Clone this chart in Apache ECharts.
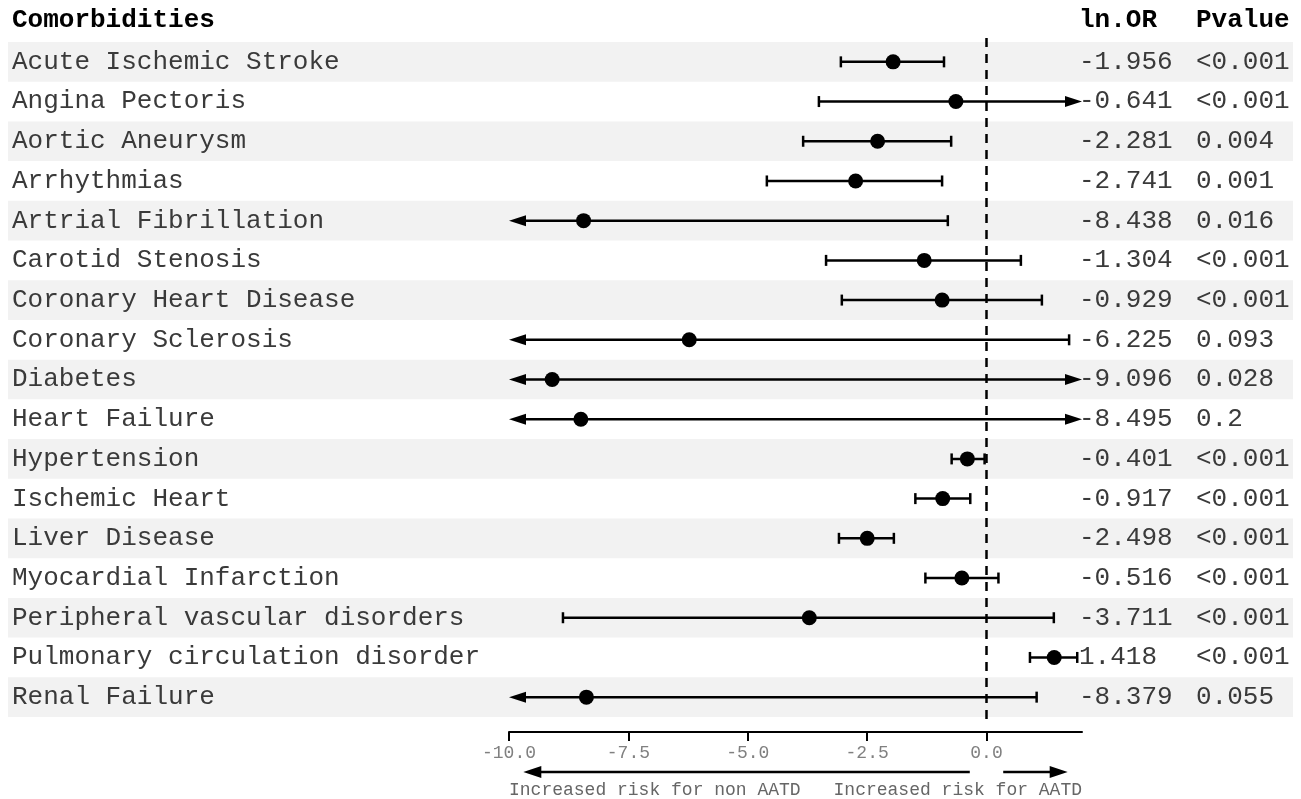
<!DOCTYPE html>
<html><head><meta charset="utf-8">
<script src="https://cdn.jsdelivr.net/npm/echarts@6/dist/echarts.min.js"></script>
<style>html,body{margin:0;padding:0;background:#fff}#c{width:1301px;height:799px}</style>
</head><body><div id="c"></div>
<script>
// ---- data ----
const categories = [
  'Acute Ischemic Stroke', 'Angina Pectoris', 'Aortic Aneurysm', 'Arrhythmias',
  'Artrial Fibrillation', 'Carotid Stenosis', 'Coronary Heart Disease', 'Coronary Sclerosis',
  'Diabetes', 'Heart Failure', 'Hypertension', 'Ischemic Heart', 'Liver Disease',
  'Myocardial Infarction', 'Peripheral vascular disorders', 'Pulmonary circulation disorder',
  'Renal Failure'
];
const lnOR = [-1.956, -0.641, -2.281, -2.741, -8.438, -1.304, -0.929, -6.225, -9.096, -8.495,
  -0.401, -0.917, -2.498, -0.516, -3.711, 1.418, -8.379];
// null = interval runs off the axis (drawn as an arrow)
const ciLower = [-3.05, -3.51, -3.84, -4.60, null, -3.36, -3.03, null, null, null,
  -0.73, -1.49, -3.09, -1.28, -8.87, 0.91, null];
const ciUpper = [-0.89, null, -0.74, -0.93, -0.81, 0.72, 1.16, 1.73, null, null,
  -0.04, -0.34, -1.94, 0.25, 1.41, 1.90, 1.05];
const pValues = ['<0.001', '<0.001', '0.004', '0.001', '0.016', '<0.001', '<0.001', '0.093',
  '0.028', '0.2', '<0.001', '<0.001', '<0.001', '<0.001', '<0.001', '<0.001', '0.055'];
const tickValues = [-10, -7.5, -5, -2.5, 0];
const axisMin = -10, axisMax = 2;
const headers = ['Comorbidities', 'ln.OR', 'Pvalue'];
const bottomLabels = ['Increased risk for non AATD', 'Increased risk for AATD'];
const leftArrowSpan = [-0.35, -9.7];
const rightArrowSpan = [0.35, 1.7];

// ---- layout / style ----
const MONO = '"Liberation Mono", "DejaVu Sans Mono", monospace';
const LN_COL_X = 1071;   // in background-grid units (px from its left edge)
const P_COL_X = 1188;
const TXT = '#3a3a3a';

const chart = echarts.init(document.getElementById('c'), null, {renderer: 'canvas'});

const rowIdx = categories.map((_, i) => i);

const option = {
  animation: false,
  backgroundColor: '#fff',
  grid: [
    {left: 8, width: 1285, top: 42, height: 675},
    {left: 509, width: 573, top: 42, height: 675}
  ],
  xAxis: [
    {gridIndex: 0, type: 'value', min: 0, max: 1285, show: false},
    {gridIndex: 1, type: 'value', min: axisMin, max: axisMax, offset: 15,
      axisLine: {show: true, onZero: false, lineStyle: {color: '#000', width: 2}},
      axisTick: {show: true, length: 9, customValues: tickValues, lineStyle: {color: '#000', width: 2}},
      axisLabel: {customValues: tickValues, formatter: v => v.toFixed(1), fontFamily: MONO,
        fontSize: 18, color: '#808080', margin: 12},
      splitLine: {show: false}}
  ],
  yAxis: [
    {gridIndex: 0, type: 'category', data: categories, inverse: true,
      axisLine: {show: false}, axisTick: {show: false}, splitLine: {show: false},
      axisLabel: {interval: 0, align: 'left', margin: -4, fontFamily: MONO, fontSize: 26, color: TXT}},
    {gridIndex: 1, type: 'category', data: categories, inverse: true, show: false}
  ],
  graphic: [
    {type: 'text', x: 12, y: 20, style: {text: headers[0], font: 'bold 26px ' + MONO, fill: '#000', verticalAlign: 'middle'}},
    {type: 'text', x: 8 + LN_COL_X, y: 20, style: {text: headers[1], font: 'bold 26px ' + MONO, fill: '#000', verticalAlign: 'middle'}},
    {type: 'text', x: 8 + P_COL_X, y: 20, style: {text: headers[2], font: 'bold 26px ' + MONO, fill: '#000', verticalAlign: 'middle'}}
  ],
  series: [
    { // alternating row bands
      type: 'custom', xAxisIndex: 0, yAxisIndex: 0, silent: true, z: 0,
      data: rowIdx.filter(i => i % 2 === 0).map(i => [0, i]),
      renderItem: (params, api) => {
        const c = api.coord([0, api.value(1)]);
        const h = api.size([0, 1])[1];
        const cs = params.coordSys;
        return {type: 'rect', shape: {x: cs.x, y: c[1] - h / 2, width: cs.width, height: h},
          style: {fill: '#f2f2f2'}};
      }
    },
    { // ln.OR and Pvalue columns
      type: 'custom', xAxisIndex: 0, yAxisIndex: 0, silent: true, z: 3,
      data: rowIdx.map(i => [0, i]),
      renderItem: (params, api) => {
        const i = params.dataIndex;
        const y = api.coord([0, i])[1];
        const x1 = api.coord([LN_COL_X, i])[0];
        const x2 = api.coord([P_COL_X, i])[0];
        const st = {font: '26px ' + MONO, fill: TXT, verticalAlign: 'middle', align: 'left'};
        return {type: 'group', children: [
          {type: 'text', style: Object.assign({text: lnOR[i].toFixed(3), x: x1, y: y}, st)},
          {type: 'text', style: Object.assign({text: pValues[i], x: x2, y: y}, st)}
        ]};
      }
    },
    { // dashed reference line at 0
      type: 'custom', xAxisIndex: 1, yAxisIndex: 1, silent: true, z: 2,
      data: [[0, 0]],
      renderItem: (params, api) => {
        const h = api.size([0, 1])[1];
        const top = api.coord([0, 0]);
        const bot = api.coord([0, categories.length - 1]);
        return {type: 'line', shape: {x1: top[0], y1: top[1] - h / 2 - 4, x2: top[0], y2: bot[1] + h / 2 + 8},
          style: {stroke: '#000', lineWidth: 2.5, lineDash: [9, 7]}};
      }
    },
    { // confidence intervals
      type: 'custom', xAxisIndex: 1, yAxisIndex: 1, silent: true, z: 4,
      data: rowIdx.map(i => [lnOR[i], i]),
      renderItem: (params, api) => {
        const i = params.dataIndex;
        const y = api.coord([0, i])[1];
        const lo = ciLower[i], hi = ciUpper[i];
        const xl = api.coord([lo == null ? axisMin : lo, i])[0];
        const xh = api.coord([hi == null ? axisMax : hi, i])[0];
        const stroke = {stroke: '#000', lineWidth: 2.5};
        const ch = [];
        const AL = 17, AH = 5.5, CAP = 5.5;
        ch.push({type: 'line', shape: {x1: lo == null ? xl + 8 : xl, y1: y, x2: hi == null ? xh - 8 : xh, y2: y}, style: stroke});
        if (lo == null) {
          ch.push({type: 'polygon', shape: {points: [[xl, y], [xl + AL, y - AH], [xl + AL, y + AH]]}, style: {fill: '#000'}});
        } else {
          ch.push({type: 'line', shape: {x1: xl, y1: y - CAP, x2: xl, y2: y + CAP}, style: stroke});
        }
        if (hi == null) {
          ch.push({type: 'polygon', shape: {points: [[xh, y], [xh - AL, y - AH], [xh - AL, y + AH]]}, style: {fill: '#000'}});
        } else {
          ch.push({type: 'line', shape: {x1: xh, y1: y - CAP, x2: xh, y2: y + CAP}, style: stroke});
        }
        return {type: 'group', children: ch};
      }
    },
    { // point estimates
      type: 'scatter', xAxisIndex: 1, yAxisIndex: 1, z: 5, silent: true,
      symbol: 'circle', symbolSize: 15, itemStyle: {color: '#000', opacity: 1},
      data: rowIdx.map(i => [lnOR[i], i])
    },
    { // direction arrows + captions under the axis
      type: 'custom', xAxisIndex: 1, yAxisIndex: 1, silent: true, z: 4, clip: false,
      data: [[0, 0]],
      renderItem: (params, api) => {
        const cs = params.coordSys;
        const yA = cs.y + cs.height + 55;
        const yT = cs.y + cs.height + 73;
        const l0 = api.coord([leftArrowSpan[0], 0])[0], l1 = api.coord([leftArrowSpan[1], 0])[0];
        const r0 = api.coord([rightArrowSpan[0], 0])[0], r1 = api.coord([rightArrowSpan[1], 0])[0];
        const AL = 18, AH = 6;
        const stroke = {stroke: '#000', lineWidth: 2.5};
        const tst = {font: '18px ' + MONO, fill: '#666', verticalAlign: 'middle'};
        return {type: 'group', children: [
          {type: 'line', shape: {x1: l0, y1: yA, x2: l1 + 8, y2: yA}, style: stroke},
          {type: 'polygon', shape: {points: [[l1, yA], [l1 + AL, yA - AH], [l1 + AL, yA + AH]]}, style: {fill: '#000'}},
          {type: 'line', shape: {x1: r0, y1: yA, x2: r1 - 8, y2: yA}, style: stroke},
          {type: 'polygon', shape: {points: [[r1, yA], [r1 - AL, yA - AH], [r1 - AL, yA + AH]]}, style: {fill: '#000'}},
          {type: 'text', style: Object.assign({text: bottomLabels[0], x: cs.x, y: yT, align: 'left'}, tst)},
          {type: 'text', style: Object.assign({text: bottomLabels[1], x: cs.x + cs.width, y: yT, align: 'right'}, tst)}
        ]};
      }
    }
  ]
};
chart.setOption(option);
</script>
</body></html>
